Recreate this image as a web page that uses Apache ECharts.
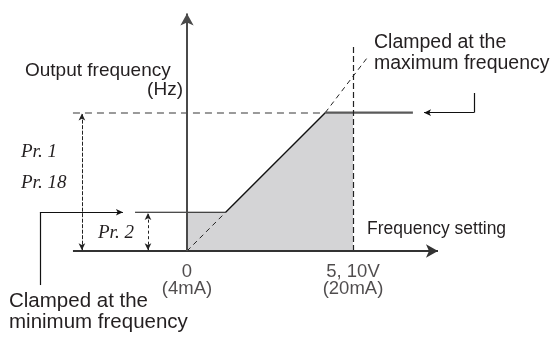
<!DOCTYPE html>
<html>
<head>
<meta charset="utf-8">
<title>Frequency setting vs output frequency</title>
<script src="https://cdn.jsdelivr.net/npm/echarts@6/dist/echarts.min.js"></script>
<style>
  html, body { margin: 0; padding: 0; background: #fff; }
  #chart { width: 555px; height: 338px; }
</style>
</head>
<body>
<div id="chart"></div>
<script>
// Frequency setting (% of full scale) at the corners of the clamped curve
const settingKnots = [0, 23.3, 83.3, 100];
// Output frequency (Hz) after clamping by Pr. 2 (min) and Pr. 1 (max)
const clampedOutput = [14, 14, 50, 50];
// Unclamped setting-to-output line: lower part below the minimum, upper part above the maximum
const rawLowSetting = [0, 23.3];
const rawLowOutput = [0, 14];
const rawHighSetting = [83.3, 108.4];
const rawHighOutput = [50, 69.7];
// Tick labels on the frequency-setting axis
const tickValues = [0, 100];
const tickLabels = ['0\n(4mA)', '5, 10V\n(20mA)'];
// Clamp levels
const minFreq = 14;   // Pr. 2
const maxFreq = 50;   // Pr. 1 / Pr. 18

const ink = '#231f20';
const sansFont = '"Liberation Sans", Arial, sans-serif';
const serifFont = '"Liberation Serif", "Times New Roman", serif';

function pairs(xs, ys) { return xs.map((x, i) => [x, ys[i]]); }

function seg(a, b, style, symbols, size) {
  return [
    { coord: a, symbol: symbols ? symbols[0] : 'none', symbolSize: size || 6 },
    { coord: b, symbol: symbols ? symbols[1] : 'none', symbolSize: size || 6, lineStyle: style }
  ];
}

const chart = echarts.init(document.getElementById('chart'), null, { renderer: 'canvas' });

const axisStyle = { color: '#4a4a4a', width: 2, type: 'solid' };
const xAxisStyle = { color: '#333', width: 2, type: 'solid' };
const thinBlack = { color: '#111', width: 1.2, type: 'solid' };

chart.setOption({
  animation: false,
  backgroundColor: '#fff',
  grid: { left: 0, right: 0, top: 0, bottom: 0, containLabel: false, outerBoundsMode: 'none' },
  xAxis: {
    type: 'value',
    min: -112.65,
    max: 221.7,
    axisLine: { show: false },
    axisTick: { show: false },
    axisLabel: { show: false },
    splitLine: { show: false }
  },
  yAxis: {
    type: 'value',
    min: -31.44,
    max: 90.71,
    axisLine: { show: false },
    axisTick: { show: false },
    axisLabel: { show: false },
    splitLine: { show: false }
  },
  series: [
    {
      // shaded operating region under the clamped curve
      type: 'line',
      data: pairs(settingKnots, clampedOutput),
      showSymbol: false,
      lineStyle: { width: 0 },
      areaStyle: { color: '#d4d4d6', opacity: 1 },
      silent: true,
      z: 1
    },
    {
      // minimum frequency clamp level, drawn from left of the vertical axis
      type: 'line',
      data: [[-31.3, minFreq], [settingKnots[1], clampedOutput[1]]],
      showSymbol: false,
      lineStyle: { color: '#111', width: 1.2 },
      silent: true,
      z: 3
    },
    {
      // linear part of the characteristic
      type: 'line',
      data: pairs(settingKnots.slice(1, 3), clampedOutput.slice(1, 3)),
      showSymbol: false,
      lineStyle: { color: '#111', width: 1.4 },
      silent: true,
      z: 3
    },
    {
      // maximum frequency clamp level
      type: 'line',
      data: [[settingKnots[2], maxFreq], [136.1, maxFreq]],
      showSymbol: false,
      lineStyle: { color: '#5a5a5a', width: 2.2 },
      silent: true,
      z: 3
    },
    {
      // unclamped line below the minimum frequency
      type: 'line',
      data: pairs(rawLowSetting, rawLowOutput),
      showSymbol: false,
      lineStyle: { color: '#222', width: 1, type: [5, 4] },
      silent: true,
      z: 3
    },
    {
      // unclamped line above the maximum frequency
      type: 'line',
      data: pairs(rawHighSetting, rawHighOutput),
      showSymbol: false,
      lineStyle: { color: '#222', width: 1, type: [5, 4] },
      silent: true,
      z: 3
    },
    {
      // tick labels under the horizontal axis
      type: 'scatter',
      data: tickValues.map((v) => [v, 0]),
      symbolSize: 0,
      silent: true,
      z: 5,
      label: {
        show: true,
        position: 'bottom',
        distance: 12,
        color: ink,
        fontFamily: sansFont,
        fontSize: 18.5,
        lineHeight: 17,
        align: 'center',
        formatter: (p) => tickLabels[p.dataIndex]
      }
    },
    {
      // guides, axes and dimension arrows
      type: 'line',
      data: [],
      silent: true,
      z: 4,
      markLine: {
        silent: true,
        animation: false,
        label: { show: false },
        emphasis: { disabled: true },
        data: [
          // maximum frequency guide (dashed)
          seg([-68.7, maxFreq], [settingKnots[2], maxFreq], { color: '#7a7a7a', width: 1.5, type: [7, 5] }),
          // full-scale setting guide (dashed)
          seg([100, 0], [100, 73.7], { color: '#222', width: 1.2, type: [6, 3] }),
          // horizontal axis
          seg([-68.7, 0], [151.2, 0], xAxisStyle, ['none', 'arrow'], [10, 12]),
          // vertical axis
          seg([0, 0], [0, 85.8], axisStyle, ['none', 'arrow'], [10, 12]),
          // Pr. 1 / Pr. 18 dimension
          seg([-63.3, 0.3], [-63.3, maxFreq - 0.3], { color: '#222', width: 1, type: [4, 1.5] }, ['arrow', 'arrow'], [5, 7]),
          // Pr. 2 dimension
          seg([-23.5, 0.3], [-23.5, minFreq - 0.3], { color: '#222', width: 1, type: [3, 2.5] }, ['arrow', 'arrow'], [5, 7]),
          // leader: clamped at the minimum frequency
          seg([-88.6, -12.3], [-88.6, minFreq], thinBlack),
          seg([-88.6, minFreq], [-38.6, minFreq], thinBlack, ['none', 'arrow'], [5, 7]),
          // leader: clamped at the maximum frequency
          seg([172.9, 57.1], [172.9, maxFreq], thinBlack),
          seg([172.9, maxFreq], [142.8, maxFreq], thinBlack, ['none', 'arrow'], [5, 7])
        ]
      }
    }
  ],
  graphic: [
    { type: 'text', left: 25, top: 61, style: { text: 'Output frequency', fill: ink, font: '19px ' + sansFont } },
    { type: 'text', right: 555 - 183, top: 80, style: { text: '(Hz)', fill: ink, font: '19px ' + sansFont } },
    { type: 'text', left: 374, top: 32, style: { text: 'Clamped at the\nmaximum frequency', fill: ink, font: '19.5px ' + sansFont, lineHeight: 21 } },
    { type: 'text', left: 9, top: 291, style: { text: 'Clamped at the\nminimum frequency', fill: ink, font: '20.5px ' + sansFont, lineHeight: 21 } },
    { type: 'text', left: 367, top: 220, style: { text: 'Frequency setting', fill: ink, font: '17.5px ' + sansFont } },
    { type: 'text', left: 21, top: 142, style: { text: 'Pr. 1', fill: ink, font: 'italic 19px ' + serifFont } },
    { type: 'text', left: 21, top: 173, style: { text: 'Pr. 18', fill: ink, font: 'italic 19px ' + serifFont } },
    { type: 'text', left: 98, top: 223, style: { text: 'Pr. 2', fill: ink, font: 'italic 19px ' + serifFont } }
  ]
});
</script>
</body>
</html>
